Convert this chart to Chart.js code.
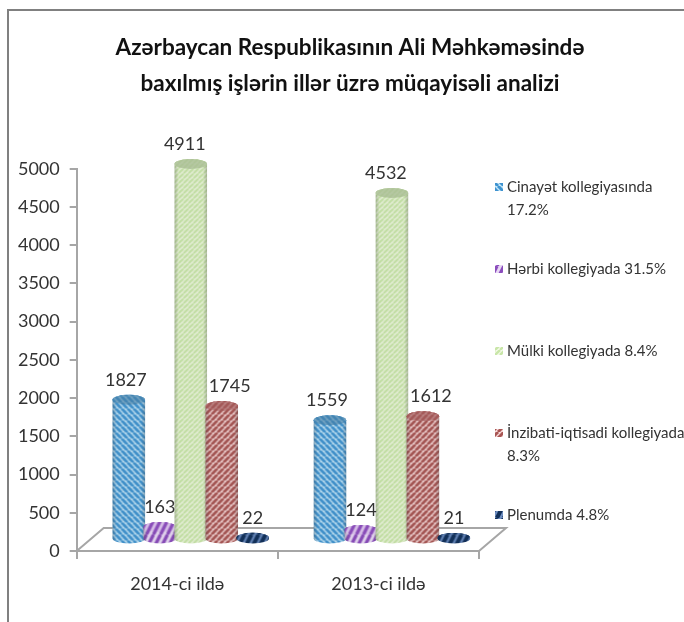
<!DOCTYPE html>
<html>
<head>
<meta charset="utf-8">
<style>
  html, body { margin: 0; padding: 0; background: #fff; }
  #wrap { width: 684px; height: 622px; }
  canvas { filter: blur(0.35px); }
</style>
</head>
<body>
<div id="wrap"><canvas id="chart" width="684" height="622"></canvas></div>
<script src="https://cdn.jsdelivr.net/npm/chart.js@4/dist/chart.umd.min.js"></script>
<script>
const titleLines = ['Azərbaycan Respublikasının Ali Məhkəməsində', 'baxılmış işlərin illər üzrə müqayisəli analizi'];
const years = ['2014-ci ildə', '2013-ci ildə'];
const seriesNames = ['Cinayət kollegiyasında', 'Hərbi kollegiyada', 'Mülki kollegiyada', 'İnzibati-iqtisadi kollegiyada', 'Plenumda'];
const legendLines = [
  ['Cinayət kollegiyasında', '17.2%'],
  ['Hərbi kollegiyada 31.5%'],
  ['Mülki kollegiyada 8.4%'],
  ['İnzibati-iqtisadi kollegiyada', '8.3%'],
  ['Plenumda 4.8%'],
];
const cinayet = [1827, 1559];
const herbi = [163, 124];
const mulki = [4911, 4532];
const inzibati = [1745, 1612];
const plenum = [22, 21];

const FONT = 'Lato, "Noto Sans", sans-serif';
const TEXT = '#333';
const AXIS = '#a6a6a6';
const DEPTH = { x: 27, y: -23 }; // floor of the fake 3d box

// diagonal hatch tile, dir 1 = "\" and -1 = "/"
function stripes(bg, fg, dir, w, h, lw) {
  const c = document.createElement('canvas');
  c.width = w;
  c.height = h;
  const g = c.getContext('2d');
  g.fillStyle = bg;
  g.fillRect(0, 0, w, h);
  g.strokeStyle = fg;
  g.lineWidth = lw;
  for (let i = -w; i <= w * 2; i += w) {
    g.beginPath();
    g.moveTo(i, dir > 0 ? 0 : h);
    g.lineTo(i + w, dir > 0 ? h : 0);
    g.stroke();
  }
  return c;
}

const looks = [
  { tile: stripes('#c4e6f8', '#3f93d0', 1, 6, 6, 3), cap: '#44799f', capAlpha: 0.6, labelDx: -3 },
  { tile: stripes('#e8d8f4', '#8a4cbc', -1, 7, 14, 3.4), cap: '#8a55b0', capAlpha: 0.2, labelDx: 0 },
  { tile: stripes('#f4fae8', '#c8e6a8', -1, 5, 5, 2.4), cap: '#a4b890', capAlpha: 0.75, labelDx: -6 },
  { tile: stripes('#f6d8d8', '#a85553', -1, 6, 6, 3), cap: '#a05a5a', capAlpha: 0.65, labelDx: 8 },
  { tile: stripes('#6f8fc2', '#122f58', -1, 7, 14, 4), cap: '#17375e', capAlpha: 0.15, labelDx: 0 },
];

function drawCylinder(ctx, bar, look) {
  const rx = bar.width / 2;
  const ry = 5;
  const pattern = ctx.createPattern(look.tile, 'repeat');

  ctx.beginPath();
  ctx.moveTo(bar.x - rx, bar.y);
  ctx.lineTo(bar.x - rx, bar.base);
  ctx.ellipse(bar.x, bar.base, rx, ry, 0, Math.PI, 0, true);
  ctx.lineTo(bar.x + rx, bar.y);
  ctx.ellipse(bar.x, bar.y, rx, ry, 0, 0, Math.PI, true);
  ctx.closePath();
  ctx.fillStyle = pattern;
  ctx.fill();

  // rounded look
  const shade = ctx.createLinearGradient(bar.x - rx, 0, bar.x + rx, 0);
  shade.addColorStop(0, 'rgba(60,60,60,0.3)');
  shade.addColorStop(0.12, 'rgba(60,60,60,0.05)');
  shade.addColorStop(0.88, 'rgba(60,60,60,0.05)');
  shade.addColorStop(1, 'rgba(60,60,60,0.3)');
  ctx.fillStyle = shade;
  ctx.fill();

  ctx.beginPath();
  ctx.ellipse(bar.x, bar.y, rx, ry, 0, 0, Math.PI * 2);
  ctx.fillStyle = pattern;
  ctx.fill();
  ctx.globalAlpha = look.capAlpha;
  ctx.fillStyle = look.cap;
  ctx.fill();
  ctx.globalAlpha = 1;
}

const cylinders = {
  id: 'cylinders',
  beforeDatasetsDraw(chart) {
    const { ctx, chartArea: a } = chart;
    ctx.save();
    ctx.strokeStyle = AXIS;
    ctx.lineWidth = 2;
    ctx.beginPath();
    ctx.moveTo(a.left, a.bottom);
    ctx.lineTo(a.left + DEPTH.x, a.bottom + DEPTH.y);
    ctx.lineTo(a.right + DEPTH.x, a.bottom + DEPTH.y);
    ctx.lineTo(a.right, a.bottom);
    ctx.stroke();
    ctx.restore();
  },
  // native bars are skipped, the loop below draws them left to right
  beforeDatasetDraw() {
    return false;
  },
  afterDatasetsDraw(chart) {
    const ctx = chart.ctx;
    ctx.save();
    ctx.translate(DEPTH.x / 2, DEPTH.y / 2);
    chart.data.datasets.forEach((ds, i) => {
      chart.getDatasetMeta(i).data.forEach(el => {
        const bar = el.getProps(['x', 'y', 'base', 'width'], true);
        drawCylinder(ctx, bar, looks[i]);
      });
    });
    ctx.font = '18px ' + FONT;
    ctx.fillStyle = TEXT;
    ctx.textAlign = 'center';
    ctx.textBaseline = 'middle';
    chart.data.datasets.forEach((ds, i) => {
      chart.getDatasetMeta(i).data.forEach((el, j) => {
        const bar = el.getProps(['x', 'y'], true);
        ctx.fillText(String(ds.data[j]), bar.x + looks[i].labelDx, bar.y - 20);
      });
    });
    ctx.restore();
  },
};

const decorations = {
  id: 'decorations',
  afterDraw(chart) {
    const ctx = chart.ctx;
    ctx.save();

    // picture frame, only top and left are visible
    ctx.strokeStyle = '#808080';
    ctx.lineWidth = 2;
    ctx.beginPath();
    ctx.moveTo(8, 622);
    ctx.lineTo(8, 10);
    ctx.lineTo(684, 10);
    ctx.stroke();

    ctx.fillStyle = '#111';
    ctx.font = 'bold 22.5px ' + FONT;
    ctx.textAlign = 'center';
    ctx.textBaseline = 'middle';
    titleLines.forEach((line, i) => ctx.fillText(line, 350, 48 + i * 36));

    ctx.font = '15px ' + FONT;
    ctx.textAlign = 'left';
    legendLines.forEach((lines, i) => {
      const y = 187 + i * 82;
      ctx.fillStyle = ctx.createPattern(looks[i].tile, 'repeat');
      ctx.fillRect(495, y - 4, 8, 8);
      ctx.fillStyle = TEXT;
      lines.forEach((line, k) => ctx.fillText(line, 507, y + k * 23));
    });
    ctx.restore();
  },
};

new Chart(document.getElementById('chart'), {
  type: 'bar',
  data: {
    labels: years,
    datasets: [
      { label: seriesNames[0], data: cinayet },
      { label: seriesNames[1], data: herbi },
      { label: seriesNames[2], data: mulki },
      { label: seriesNames[3], data: inzibati },
      { label: seriesNames[4], data: plenum },
    ],
  },
  options: {
    responsive: false,
    animation: false,
    categoryPercentage: 0.77,
    barPercentage: 1.05,
    layout: { padding: { top: 168.7, right: 205, bottom: 0, left: 0 } },
    plugins: {
      legend: { display: false },
      title: { display: false },
      tooltip: { enabled: false },
    },
    scales: {
      x: {
        afterFit(scale) { scale.height = 71; },
        grid: { drawOnChartArea: false, color: AXIS, lineWidth: 2, tickLength: 8 },
        border: { color: AXIS, width: 2 },
        ticks: { color: TEXT, font: { family: FONT, size: 18 }, padding: 14 },
      },
      y: {
        min: 0,
        max: 5000,
        afterFit(scale) { scale.width = 76.7; },
        grid: { drawOnChartArea: false, color: AXIS, lineWidth: 2, tickLength: 7 },
        border: { color: AXIS, width: 2 },
        ticks: {
          stepSize: 500,
          color: TEXT,
          font: { family: FONT, size: 18 },
          padding: 10,
          callback: v => String(v),
        },
      },
    },
  },
  plugins: [cylinders, decorations],
});
</script>
</body>
</html>
